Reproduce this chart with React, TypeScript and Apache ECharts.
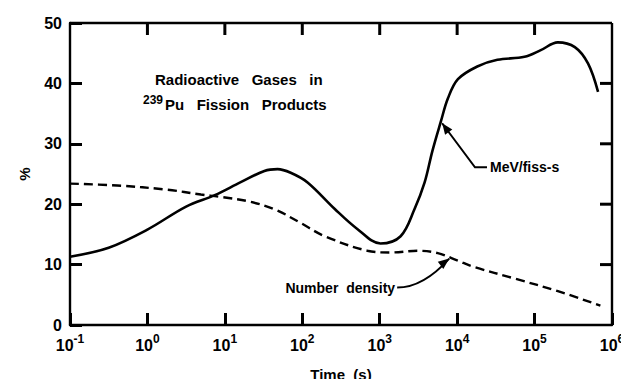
import React, { useEffect, useRef } from "react";
import * as echarts from "echarts";

// Time (s) and percentage for the energy release curve (MeV/fiss-s)
const energyTime = [0.1, 0.316, 1, 3.16, 7.41, 15.8, 32.4, 47.9, 70.8, 117, 263, 513, 1023, 1862, 2818, 3802, 4786, 6166, 7586, 10233, 18197, 33113, 74131, 120226, 199526, 331131, 489779, 660693];
const energyPct = [11.3, 12.8, 15.8, 19.6, 21.5, 23.6, 25.5, 25.8, 25.2, 23.6, 19.2, 15.9, 13.5, 14.7, 19.2, 23.6, 28.8, 33.7, 37.5, 40.7, 42.8, 43.9, 44.4, 45.5, 46.8, 46.0, 43.3, 38.6];

// Time (s) and percentage for the number density curve
const densityTime = [0.1, 0.407, 1.82, 4.9, 8.9, 21.4, 45, 95, 195, 692, 1380, 3090, 5623, 10000, 16600, 55000, 200000, 708000];
const densityPct = [23.4, 23.1, 22.4, 21.6, 21.2, 20.4, 19.1, 16.9, 14.7, 12.3, 12.0, 12.3, 11.9, 10.7, 9.6, 7.7, 5.6, 3.2];

// Axis ranges and tick positions
const xMin = 0.1;
const xMax = 1000000;
const xTicks = [1, 10, 100, 1000, 10000, 100000];
const yMin = 0;
const yMax = 50;
const yTicks = [10, 20, 30, 40];

// Arrow anchors in data coordinates: [time, percent]
const energyArrowTip = [6400, 33.4];
const energyArrowBend = [17000, 26.1];
const densityArrowTip = [7900, 11.0];
const densityArrowStart = [1680, 6.2];

const FONT = "Liberation Sans";
const INK = "#000";
const TICK_LEN = 12;
const TICK_W = 3;
const FRAME_W = 2.4;

function arrowHead(tip: number[], from: number[], len: number, half: number) {
  const dx = tip[0] - from[0];
  const dy = tip[1] - from[1];
  const d = Math.hypot(dx, dy) || 1;
  const ux = dx / d;
  const uy = dy / d;
  const bx = tip[0] - ux * len;
  const by = tip[1] - uy * len;
  return [
    [tip[0], tip[1]],
    [bx - uy * half, by + ux * half],
    [bx + uy * half, by - ux * half],
  ];
}

export default function App() {
  const ref = useRef<HTMLDivElement>(null);

  useEffect(() => {
    if (!ref.current) return;
    const chart = echarts.init(ref.current, undefined, { renderer: "svg" });

    const expLabel = (v: number) => {
      const e = Math.round(Math.log10(v));
      return `{b|10}{s|${e}}`;
    };

    chart.setOption({
      animation: false,
      grid: { left: 62, right: 25, top: 15, bottom: 52 },
      xAxis: {
        type: "log",
        logBase: 10,
        min: xMin,
        max: xMax,
        axisLine: { show: true, onZero: false, lineStyle: { color: INK, width: FRAME_W } },
        axisTick: { show: true, inside: true, length: TICK_LEN, lineStyle: { color: INK, width: TICK_W } },
        splitLine: { show: false },
        axisLabel: {
          formatter: expLabel,
          margin: 8,
          rich: {
            b: { fontFamily: FONT, fontSize: 16, fontWeight: "bold", color: INK },
            s: { fontFamily: FONT, fontSize: 12, fontWeight: "bold", color: INK, padding: [0, 0, 12, 0] },
          },
        },
        name: "Time  (s)",
        nameLocation: "middle",
        nameGap: 42,
        nameTextStyle: { fontFamily: FONT, fontSize: 15, fontWeight: "bold", color: INK },
      },
      yAxis: {
        type: "value",
        min: yMin,
        max: yMax,
        interval: 10,
        axisLine: { show: true, onZero: false, lineStyle: { color: INK, width: FRAME_W } },
        axisTick: { show: true, inside: true, length: TICK_LEN, lineStyle: { color: INK, width: TICK_W } },
        splitLine: { show: false },
        axisLabel: { fontFamily: FONT, fontSize: 16, fontWeight: "bold", color: INK, margin: 8 },
        name: "%",
        nameLocation: "middle",
        nameRotate: 90,
        nameGap: 38,
        nameTextStyle: { fontFamily: FONT, fontSize: 15, fontWeight: "bold", color: INK },
      },
      series: [
        {
          type: "line",
          name: "MeV/fiss-s",
          data: energyTime.map((t, i) => [t, energyPct[i]]),
          smooth: 0.35,
          showSymbol: false,
          lineStyle: { color: INK, width: 2.6 },
        },
        {
          type: "line",
          name: "Number density",
          data: densityTime.map((t, i) => [t, densityPct[i]]),
          smooth: 0.35,
          showSymbol: false,
          lineStyle: { color: INK, width: 2.4, type: [9, 5] },
        },
      ],
    });

    const px = (p: number[]) => chart.convertToPixel({ xAxisIndex: 0, yAxisIndex: 0 }, p) as number[];

    // Top and right sides of the frame, with inward ticks
    const topLeft = px([xMin, yMax]);
    const topRight = px([xMax, yMax]);
    const bottomRight = px([xMax, yMin]);
    const frame: any[] = [
      {
        type: "line",
        z: 100,
        shape: { x1: topLeft[0], y1: topLeft[1], x2: topRight[0], y2: topRight[1] },
        style: { stroke: INK, lineWidth: FRAME_W },
      },
      {
        type: "line",
        z: 100,
        shape: { x1: topRight[0], y1: topRight[1], x2: bottomRight[0], y2: bottomRight[1] },
        style: { stroke: INK, lineWidth: FRAME_W },
      },
    ];
    xTicks.forEach((v) => {
      const t = px([v, yMax]);
      frame.push({
        type: "rect",
        z: 100,
        shape: { x: t[0] - TICK_W / 2, y: t[1], width: TICK_W, height: TICK_LEN },
        style: { fill: INK },
      });
    });
    yTicks.forEach((v) => {
      const r = px([xMax, v]);
      frame.push({
        type: "rect",
        z: 100,
        shape: { x: r[0] - TICK_LEN, y: r[1] - TICK_W / 2, width: TICK_LEN, height: TICK_W },
        style: { fill: INK },
      });
    });

    const eTip = px(energyArrowTip);
    const eBend = px(energyArrowBend);
    const dTip = px(densityArrowTip);
    const dStart = px(densityArrowStart);
    const dCtrl = [dStart[0] + 26, dStart[1]];

    const textStyle = { fontFamily: FONT, fontWeight: "bold", fill: INK };

    chart.setOption({
      graphic: [
        ...frame,
        {
          type: "text",
          left: 147,
          top: 64,
          style: { ...textStyle, text: "Radioactive   Gases   in", fontSize: 15 },
        },
        {
          type: "text",
          left: 135,
          top: 86,
          style: {
            ...textStyle,
            text: "{s|239}{b|Pu   Fission   Products}",
            rich: {
              s: { fontFamily: FONT, fontWeight: "bold", fontSize: 12, padding: [0, 2, 8, 0] },
              b: { fontFamily: FONT, fontWeight: "bold", fontSize: 15 },
            },
          },
        },
        // MeV/fiss-s leader
        {
          type: "polyline",
          shape: { points: [[eBend[0] + 12, eBend[1]], eBend, eTip] },
          style: { stroke: INK, lineWidth: 2, fill: "none" },
        },
        {
          type: "polygon",
          shape: { points: arrowHead(eTip, eBend, 11, 4.5) },
          style: { fill: INK },
        },
        {
          type: "text",
          x: eBend[0] + 15,
          y: eBend[1],
          style: { ...textStyle, text: "MeV/fiss-s", fontSize: 14, verticalAlign: "middle" },
        },
        // Number density leader
        {
          type: "bezierCurve",
          shape: { x1: dStart[0], y1: dStart[1], x2: dTip[0], y2: dTip[1], cpx1: dCtrl[0], cpy1: dCtrl[1] },
          style: { stroke: INK, lineWidth: 2, fill: "none" },
        },
        {
          type: "polygon",
          shape: { points: arrowHead(dTip, [dTip[0] - 14, dTip[1] + 11], 11, 4.5) },
          style: { fill: INK },
        },
        {
          type: "text",
          x: dStart[0] - 2,
          y: dStart[1],
          style: { ...textStyle, text: "Number  density", fontSize: 14, align: "right", verticalAlign: "middle" },
        },
      ],
    });

    return () => chart.dispose();
  }, []);

  return <div ref={ref} style={{ width: 629, height: 379 }} />;
}
